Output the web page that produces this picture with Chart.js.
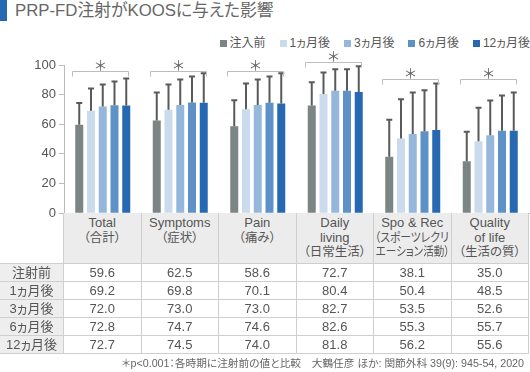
<!DOCTYPE html>
<html lang="ja">
<head>
<meta charset="utf-8">
<script src="https://cdn.jsdelivr.net/npm/chart.js@4.4.0/dist/chart.umd.min.js"></script>
<style>
  body {
    margin: 0;
    width: 530px;
    height: 372px;
    overflow: hidden;
    position: relative;
    background: #fff;
    color: #555;
    font-family: "Liberation Sans", "Noto Sans CJK JP", sans-serif;
    font-feature-settings: "palt";
  }
  #title-bar { position: absolute; left: 0; top: 0; width: 7px; height: 21px; background: #2669b2; }
  #title { position: absolute; left: 15px; top: 0; font-size: 16.8px; line-height: 22px; color: #666; white-space: nowrap; }
  #legend { position: absolute; right: 0; top: 36px; display: flex; font-size: 12px; line-height: 14px; color: #555; white-space: nowrap; }
  .lg-item { display: flex; align-items: center; margin-left: 14px; }
  .lg-box { width: 7px; height: 7px; margin-right: 3px; }
  #wrap { position: absolute; left: 0; top: 40px; width: 530px; height: 184px; }
  #table {
    position: absolute; left: 0; top: 213px;
    display: grid;
    grid-template-columns: 64px repeat(6, 77.5px);
    grid-template-rows: 51px repeat(5, 18px);
  }
  .cell {
    box-sizing: border-box;
    border-right: 1px solid #cfcfcf;
    border-bottom: 1px solid #cfcfcf;
    text-align: center;
    font-size: 13px;
    line-height: 17px;
    white-space: nowrap;
    overflow: hidden;
    background: #fff;
  }
  .head { background: #ececec; line-height: 14.5px; padding-top: 3px; }
  .head span { display: inline-block; transform-origin: center; }
  .head .jp { font-size: 12.5px; }
  .corner { background: transparent; }
  .rowlab { background: #eeeeee; }
  #note { position: absolute; right: 6px; top: 356px; font-size: 10.7px; line-height: 14px; color: #666; white-space: nowrap; }
</style>
</head>
<body>
<div id="title-bar"></div>
<div id="title">PRP-FD注射がKOOSに与えた影響</div>
<div id="legend"></div>
<div id="wrap"><canvas id="koosChart"></canvas></div>
<div id="table"></div>
<div id="note">＊p&lt;0.001：各時期に注射前の値と比較　大鶴任彦 ほか: 関節外科 39(9): 945-54, 2020</div>

<script>
// ── data ──
const categories = [
  ["Total", "（合計）"],
  ["Symptoms", "（症状）"],
  ["Pain", "（痛み）"],
  ["Daily", "living", "（日常生活）"],
  ["Spo & Rec", "（スポーツレクリ", "エーション活動）"],
  ["Quality", "of life", "（生活の質）"],
];
const seriesNames = ["注入前", "1ヵ月後", "3ヵ月後", "6ヵ月後", "12ヵ月後"];
const rowLabels = ["注射前", "1ヵ月後", "3ヵ月後", "6ヵ月後", "12ヵ月後"];

const pre  = [59.6, 62.5, 58.6, 72.7, 38.1, 35.0];
const m1   = [69.2, 69.8, 70.1, 80.4, 50.4, 48.5];
const m3   = [72.0, 73.0, 73.0, 82.7, 53.5, 52.6];
const m6   = [72.8, 74.7, 74.6, 82.6, 55.3, 55.7];
const m12  = [72.7, 74.5, 74.0, 81.8, 56.2, 55.6];

// standard deviations (upper whiskers)
const sdPre = [14.8, 18.9, 17.6, 15.7, 24.9, 19.9];
const sd1   = [14.9, 17.1, 17.4, 14.6, 26.5, 22.7];
const sd3   = [14.9, 17.3, 17.3, 14.4, 27.9, 23.4];
const sd6   = [16.1, 17.6, 17.7, 14.5, 27.7, 23.7];
const sd12  = [18.2, 19.9, 20.4, 17.3, 31.3, 25.8];

// level of the "*" bracket for each category
const sigLevel = [96, 96, 96, 102, 90.5, 90.5];

const yTicks = [0, 20, 40, 60, 80, 100];

const COLORS = ["#7b8584", "#c9dbed", "#95b7db", "#5f91c9", "#2669b2"];
const values = [pre, m1, m3, m6, m12];
const sds = [sdPre, sd1, sd3, sd6, sd12];

// ── legend ──
const legendEl = document.getElementById("legend");
seriesNames.forEach((name, i) => {
  legendEl.insertAdjacentHTML("beforeend",
    `<div class="lg-item"><span class="lg-box" style="background:${COLORS[i]}"></span>${name}</div>`);
});

// ── table ──
const esc = (s) => s.replace("&", "&amp;");
const isJp = (s) => /[^\x00-\x7f]/.test(s);
const tableEl = document.getElementById("table");
let html = `<div class="cell corner"></div>`;
categories.forEach((c) => {
  html += `<div class="cell head">${c.map((l) => `<span class="${isJp(l) ? "jp" : ""}">${esc(l)}</span>`).join("<br>")}</div>`;
});
rowLabels.forEach((lab, r) => {
  html += `<div class="cell rowlab">${lab}</div>`;
  values[r].forEach((v) => { html += `<div class="cell">${v.toFixed(1)}</div>`; });
});
tableEl.innerHTML = html;

// squeeze header lines that are wider than their cell
tableEl.querySelectorAll(".head span").forEach((sp) => {
  const avail = sp.parentElement.clientWidth - 3;
  const w = sp.getBoundingClientRect().width;
  if (w > avail) {
    sp.style.transform = `scaleX(${avail / w})`;
    sp.style.margin = `0 ${-(w - avail) / 2}px`;
  }
});

// ── plugins ──
const errorBars = {
  id: "errorBars",
  afterDatasetsDraw(chart) {
    const ctx = chart.ctx;
    const y = chart.scales.y;
    ctx.save();
    ctx.strokeStyle = "#5a5a5a";
    ctx.lineWidth = 2;
    chart.data.datasets.forEach((ds, i) => {
      chart.getDatasetMeta(i).data.forEach((bar, j) => {
        const top = y.getPixelForValue(ds.data[j] + sds[i][j]);
        ctx.beginPath();
        ctx.moveTo(bar.x, bar.y);
        ctx.lineTo(bar.x, top);
        ctx.moveTo(bar.x - 3, top);
        ctx.lineTo(bar.x + 3, top);
        ctx.stroke();
      });
    });
    ctx.restore();
  },
};

const sigBrackets = {
  id: "sigBrackets",
  afterDatasetsDraw(chart) {
    const ctx = chart.ctx;
    const y = chart.scales.y;
    const first = chart.getDatasetMeta(0).data;
    const last = chart.getDatasetMeta(chart.data.datasets.length - 1).data;
    ctx.save();
    ctx.strokeStyle = "#bdbdbd";
    ctx.lineWidth = 1;
    ctx.fillStyle = "#666";
    ctx.font = "14px 'Noto Sans CJK JP'";
    ctx.textAlign = "center";
    ctx.textBaseline = "middle";
    sigLevel.forEach((lvl, j) => {
      const x1 = Math.round(first[j].x - first[j].width / 2 - 3) + 0.5;
      const x2 = Math.round(last[j].x + last[j].width / 2 - 2) + 0.5;
      const yy = Math.round(y.getPixelForValue(lvl)) + 0.5;
      ctx.beginPath();
      ctx.moveTo(x1, yy + 5);
      ctx.lineTo(x1, yy);
      ctx.lineTo(x2, yy);
      ctx.lineTo(x2, yy + 5);
      ctx.stroke();
      ctx.fillText("＊", (x1 + x2) / 2, yy - 7);
    });
    ctx.restore();
  },
};

// ── chart ──
new Chart(document.getElementById("koosChart"), {
  type: "bar",
  data: {
    labels: categories.map((c) => c.join(" ")),
    datasets: seriesNames.map((name, i) => ({
      label: name,
      data: values[i],
      backgroundColor: COLORS[i],
      borderWidth: 0,
      categoryPercentage: 0.758,
      barPercentage: 0.68,
    })),
  },
  options: {
    responsive: true,
    maintainAspectRatio: false,
    animation: false,
    layout: { padding: { top: 25, right: 1, left: 0, bottom: 0 } },
    plugins: { legend: { display: false }, tooltip: { enabled: false } },
    scales: {
      x: {
        grid: { display: false },
        ticks: { display: false },
        border: { color: "#bbb" },
        afterFit: (s) => { s.height = 1; },
      },
      y: {
        min: 0,
        max: 100,
        afterBuildTicks: (s) => { s.ticks = yTicks.map((v) => ({ value: v })); },
        ticks: { color: "#555", padding: 3, font: { family: "'Liberation Sans'", size: 13 } },
        grid: { drawOnChartArea: false, tickLength: 5, color: "#bbb" },
        border: { color: "#bbb" },
        afterFit: (s) => { s.width = 64; },
      },
    },
  },
  plugins: [errorBars, sigBrackets],
});
</script>
</body>
</html>
